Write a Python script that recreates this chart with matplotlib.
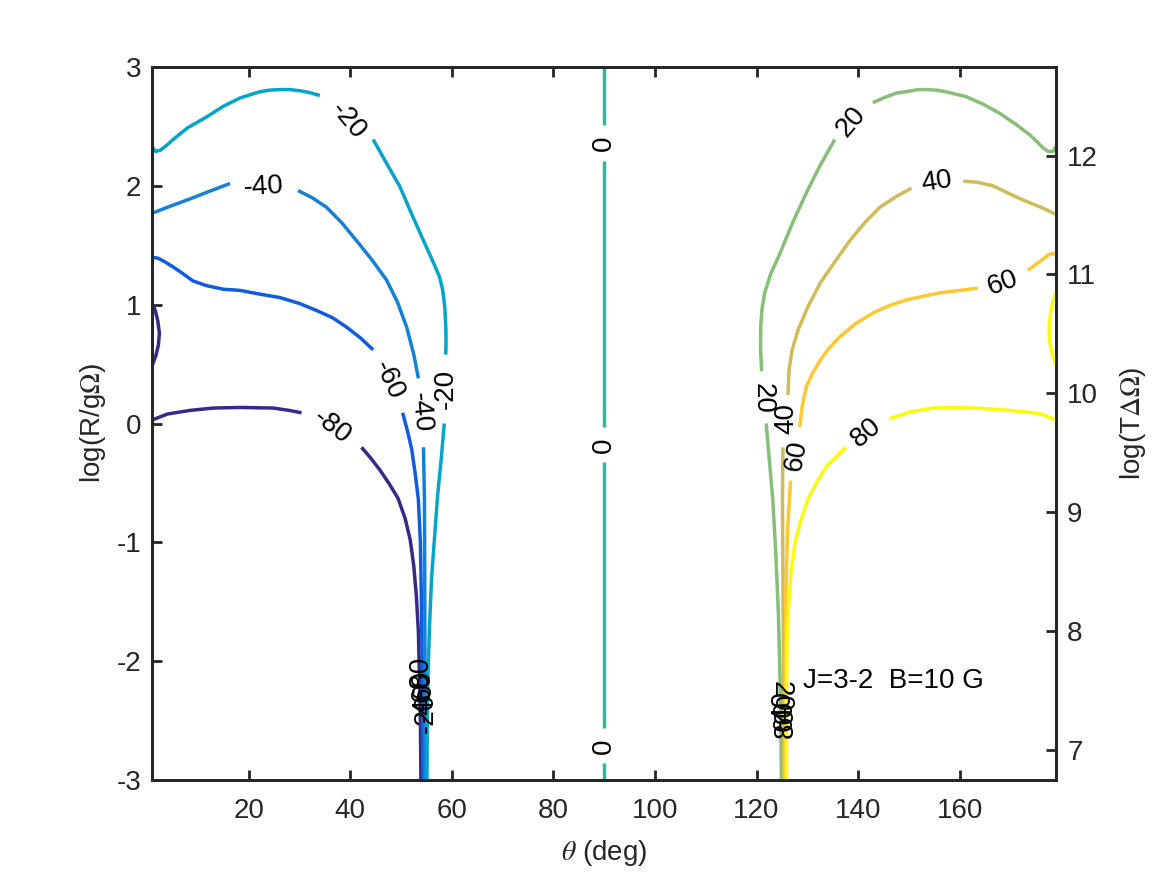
import numpy as np
import matplotlib
matplotlib.use('Agg')
import matplotlib.pyplot as plt

plt.rcParams['font.family'] = ['Liberation Sans', 'DejaVu Sans']
plt.rcParams['mathtext.fontset'] = 'stix'
plt.rcParams['font.size'] = 20
plt.rcParams['axes.unicode_minus'] = False

# contour levels and their parula colours
levels = [-80, -60, -40, -20, 0, 20, 40, 60, 80]
level_colors = ['#352a87', '#0f5cdd', '#1481d6', '#06a4ca', '#2eb7a4',
                '#87bf77', '#d1bb59', '#fec832', '#f9fb0e']

# contour pieces: (theta deg, log(R/g Omega)), split where labels sit
c_m80 = [
    [(1.0, 0.03), (4, 0.08), (8.4, 0.11), (13, 0.13), (18.3, 0.135), (24.8, 0.13), (28, 0.11), (30.4, 0.09)],
    [(42.2, -0.2), (44, -0.29), (45.8, -0.39), (47.7, -0.51), (49.4, -0.63), (50.8, -0.80), (51.8, -0.98),
     (52.5, -1.2), (53.0, -1.45), (53.4, -1.75), (53.6, -2.1), (53.8, -2.5), (53.9, -3.0)],
    [(1.0, 1.01), (1.6, 0.95), (2.1, 0.86), (2.4, 0.76), (2.2, 0.66), (1.7, 0.57), (1.0, 0.49)],
]
c_m60 = [
    [(1.0, 1.40), (2.2, 1.39), (3.5, 1.36), (5, 1.32), (6.4, 1.28), (9, 1.20), (11.7, 1.16), (15, 1.13),
     (18.3, 1.12), (22, 1.09), (26.1, 1.06), (30, 1.01), (33.4, 0.95), (36.5, 0.89), (39.3, 0.81),
     (42, 0.72), (44.5, 0.62)],
    [(50.3, 0.09), (51.3, -0.07), (52.1, -0.22), (52.8, -0.43), (53.4, -0.64), (53.8, -1.0), (54.0, -1.5),
     (54.2, -2.2), (54.3, -3.0)],
]
c_m40 = [
    [(1.0, 1.77), (4, 1.82), (8.4, 1.89), (12, 1.95), (16.3, 2.02)],
    [(29.7, 1.96), (32.5, 1.90), (35.3, 1.82), (38.3, 1.69), (41.2, 1.54), (44.2, 1.38), (47.1, 1.21),
     (49.3, 1.02), (51.1, 0.81), (52.5, 0.58), (53.4, 0.38)],
    [(54.4, -0.2), (54.6, -0.64), (54.65, -1.2), (54.7, -2.0), (54.7, -3.0)],
]
c_m20 = [
    [(1.0, 2.33), (1.6, 2.29), (2.6, 2.30), (3.8, 2.34), (5.1, 2.39), (8, 2.49), (11.7, 2.58), (15, 2.67),
     (18.3, 2.74), (22, 2.79), (24, 2.805), (26.1, 2.81), (28.2, 2.81), (30.1, 2.80), (32, 2.785), (34.0, 2.76)],
    [(44.5, 2.39), (47, 2.20), (49.8, 1.99), (52, 1.77), (54.4, 1.54), (56.3, 1.36), (57.6, 1.23),
     (58.2, 1.12), (58.6, 0.98), (58.8, 0.82), (58.85, 0.70), (58.8, 0.58)],
    [(58.5, 0.0), (57.9, -0.3), (57.2, -0.6), (56.6, -0.95), (56.0, -1.3), (55.6, -1.7), (55.3, -2.1),
     (55.15, -2.5), (55.1, -3.0)],
]
c_0 = [
    [(90, 3.0), (90, 2.515)],
    [(90, 2.21), (90, -0.03)],
    [(90, -0.32), (90, -2.56)],
    [(90, -2.86), (90, -3.0)],
]
c_20 = [
    [(179.0, 2.33), (178.4, 2.29), (177.4, 2.29), (176.4, 2.32), (175.5, 2.36), (173.8, 2.43), (171, 2.52),
     (167.9, 2.61), (164.5, 2.69), (161.3, 2.75), (157.5, 2.79), (155.5, 2.805), (153.4, 2.81), (151.8, 2.81),
     (150.5, 2.80), (147.5, 2.78), (145, 2.74), (142.9, 2.70)],
    [(135.4, 2.39), (132.5, 2.17), (129.8, 1.94), (127, 1.68), (124.6, 1.43), (122.8, 1.26), (121.6, 1.10),
     (121.1, 0.97), (120.85, 0.84), (120.8, 0.72), (120.8, 0.62), (121.0, 0.44)],
    [(121.9, 0.0), (122.5, -0.3), (123.2, -0.64), (123.8, -1.1), (124.3, -1.6), (124.6, -2.1),
     (124.8, -2.6), (124.9, -3.0)],
]
c_40 = [
    [(179.0, 1.76), (176, 1.82), (172.5, 1.88), (169.5, 1.94), (166.6, 2.0), (163.5, 2.03), (160.7, 2.04)],
    [(150.5, 1.98), (147.5, 1.91), (144.3, 1.82), (141.3, 1.69), (138.4, 1.54), (135.4, 1.36),
     (132.5, 1.18), (130.1, 0.98), (128.2, 0.79), (127.0, 0.62), (126.4, 0.45), (126.2, 0.24)],
    [(125.2, -0.2), (125.1, -0.64), (125.2, -1.3), (125.3, -2.0), (125.3, -3.0)],
]
c_60 = [
    [(179.0, 1.42), (178.3, 1.43), (177.5, 1.42), (176.6, 1.39), (175.7, 1.36), (173.4, 1.29)],
    [(163.6, 1.14), (160, 1.12), (156.1, 1.10), (152.7, 1.07), (149.5, 1.04), (146, 0.99), (142.9, 0.93),
     (139.5, 0.84), (136.4, 0.73), (134.2, 0.63), (132.5, 0.53), (131, 0.42), (129.8, 0.31),
     (129.0, 0.15), (128.5, -0.03)],
    [(126.7, -0.48), (126.1, -0.9), (125.8, -1.4), (125.7, -2.0), (125.6, -3.0)],
]
c_80 = [
    [(179.0, 0.03), (176, 0.08), (172.5, 0.10), (167, 0.12), (162.6, 0.13), (158.5, 0.135), (154.7, 0.13),
     (150.5, 0.10), (146.2, 0.04)],
    [(137.6, -0.20), (135.7, -0.28), (133.8, -0.36), (131.9, -0.49), (130.1, -0.64), (128.7, -0.82),
     (127.6, -1.0), (126.8, -1.25), (126.3, -1.55), (126.0, -1.85), (125.9, -2.3), (125.9, -3.0)],
    [(179.0, 1.10), (178.4, 1.03), (177.9, 0.93), (177.6, 0.81), (177.7, 0.70), (178.2, 0.59), (179.0, 0.49)],
]
contours = [c_m80, c_m60, c_m40, c_m20, c_0, c_20, c_40, c_60, c_80]

# inline contour labels: text, theta, y, rotation
labels = [
    ('-20', 39.5, 2.55, -50), ('-20', 58.7, 0.29, 90),
    ('-40', 22.8, 1.99, 3), ('-40', 53.8, 0.09, -85),
    ('-60', 47.6, 0.36, -65), ('-80', 36.3, -0.03, -38),
    ('0', 90, 2.36, 90), ('0', 90, -0.18, 90), ('0', 90, -2.72, 90),
    ('20', 138.7, 2.54, 50), ('20', 121.1, 0.21, -90),
    ('40', 155.4, 2.03, 8), ('40', 125.9, 0.04, 90),
    ('60', 168.5, 1.18, 20), ('60', 127.8, -0.27, 80),
    ('80', 141.6, -0.08, 40),
    ('-80', 53.9, -2.12, 90), ('-60', 54.2, -2.24, 90), ('-40', 54.5, -2.34, 90), ('-20', 54.9, -2.44, 90),
    ('20', 124.8, -2.30, -90), ('40', 125.2, -2.38, 90), ('60', 125.5, -2.46, 90), ('80', 125.8, -2.52, 90),
]

xticks = [20, 40, 60, 80, 100, 120, 140, 160]
yticks = [-3, -2, -1, 0, 1, 2, 3]
yticks_right = [7, 8, 9, 10, 11, 12]
right_offset = 9.746   # log(T dOmega) - log(R/g Omega)

ink = '#262626'
fig = plt.figure(figsize=(11.67, 8.75), dpi=100)
ax = fig.add_axes([0.1305, 0.1086, 0.7745, 0.8148])

for pieces, col in zip(contours, level_colors):
    for seg in pieces:
        arr = np.array(seg)
        ax.plot(arr[:, 0], arr[:, 1], color=col, lw=2.5, solid_capstyle='butt')

for txt, x, y, rot in labels:
    ax.text(x, y, txt, rotation=rot, ha='center', va='center', fontsize=20,
            rotation_mode='anchor', color='black')

ax.text(129.1, -2.17, 'J=3-2  B=10 G', ha='left', va='center', fontsize=20, color='black')

ax.set_xlim(1, 179)
ax.set_ylim(-3, 3)
ax.set_xticks(xticks)
ax.set_yticks(yticks)
ax.set_xlabel(r'$\theta$ (deg)', color=ink, labelpad=10)
ax.set_ylabel(r'log(R/g$\Omega$)', color=ink, labelpad=6)
ax.tick_params(axis='x', direction='in', top=True, length=7, width=2, colors=ink, pad=13)
ax.tick_params(axis='y', direction='in', right=False, length=7, width=2, colors=ink, pad=8)
for s in ax.spines.values():
    s.set_color(ink)
    s.set_linewidth(2)

ax2 = ax.twinx()
ax2.set_ylim(-3 + right_offset, 3 + right_offset)
ax2.set_yticks(yticks_right)
ax2.set_ylabel(r'log(T$\Delta\Omega$)', color=ink, labelpad=14)
ax2.tick_params(axis='y', direction='in', length=7, width=2, colors=ink, pad=8)
for s in ax2.spines.values():
    s.set_color(ink)
    s.set_linewidth(2)

fig.savefig('out.png', dpi=100)
